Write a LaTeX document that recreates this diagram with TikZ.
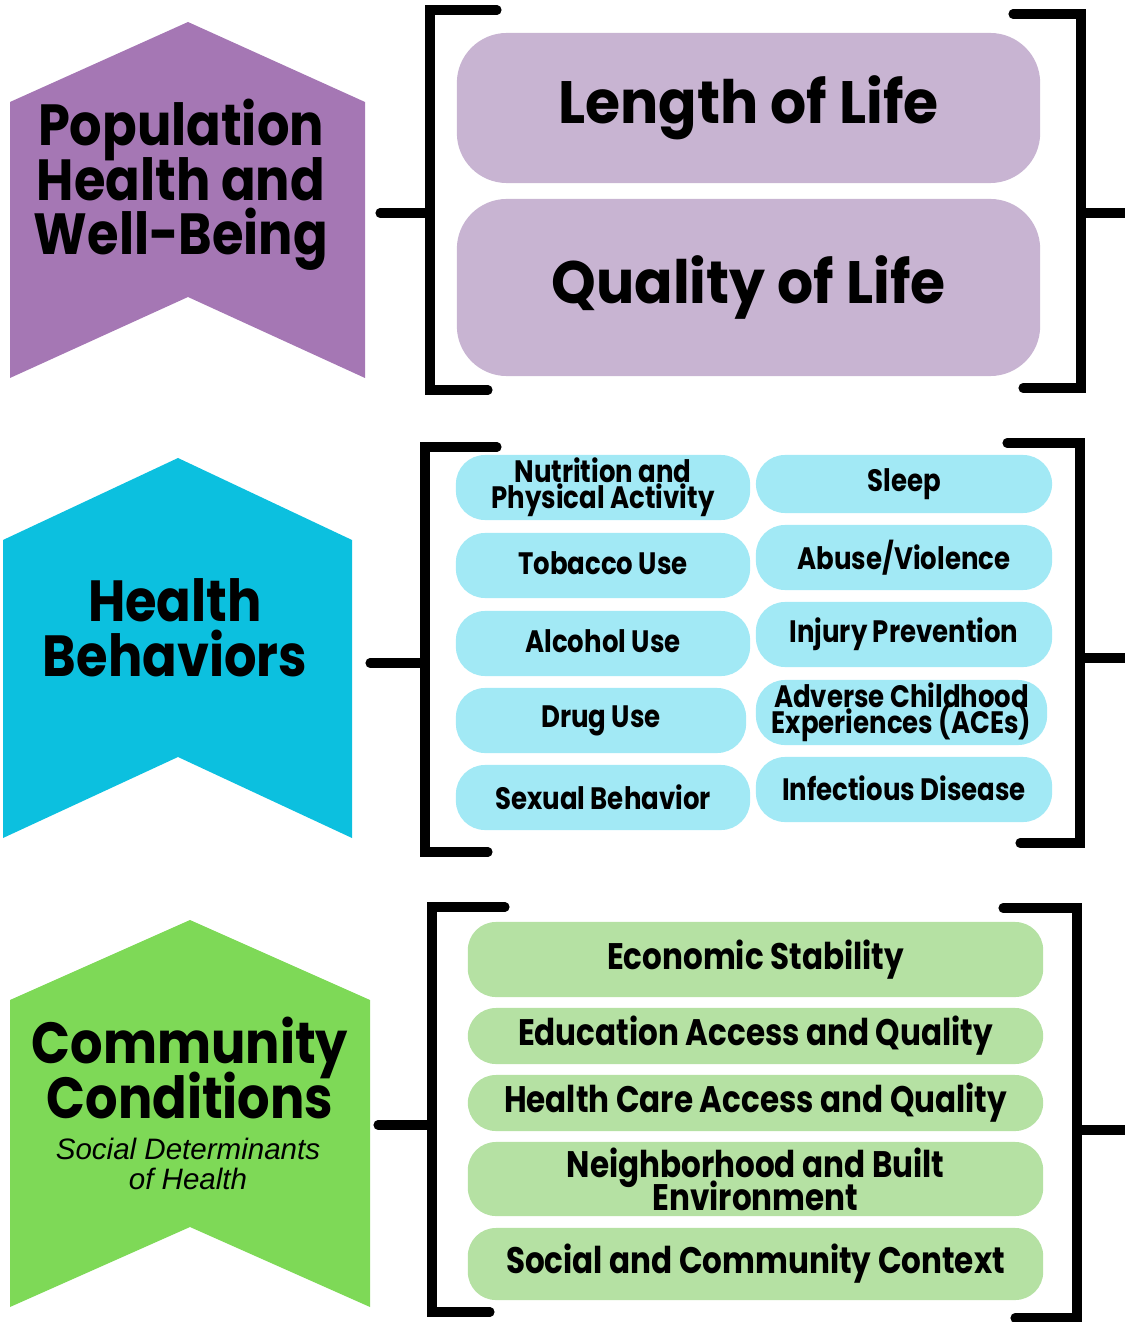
\documentclass[tikz,border=0pt]{standalone}
\usepackage{fontspec}
\newfontfamily\headfont[FakeStretch=0.88]{Poppins}
\newfontfamily\lifefont[FakeStretch=0.95]{Poppins}
\newfontfamily\pillfont[FakeStretch=0.84]{Poppins}
\newfontfamily\notefont{Liberation Sans}
\newcommand\tightlines{\lineskiplimit=-100pt\relax}
\definecolor{popdark}{HTML}{A577B4}
\definecolor{poplight}{HTML}{C8B4D2}
\definecolor{behdark}{HTML}{0CC0DF}
\definecolor{behlight}{HTML}{A2E9F5}
\definecolor{comdark}{HTML}{7ED957}
\definecolor{comlight}{HTML}{B5E1A3}
\tikzset{
  headtext/.style={align=center, inner sep=0pt,
    font={\headfont\bfseries\fontsize{16.5pt}{15.5pt}\selectfont\tightlines}},
  notetext/.style={align=center, inner sep=0pt,
    font={\notefont\itshape\fontsize{8.4pt}{8.4pt}\selectfont}},
  lifebox/.style={fill=poplight, rounded corners=0.5cm, minimum width=5.83cm, inner sep=0pt,
    font={\lifefont\bfseries\fontsize{17pt}{17pt}\selectfont}},
  behpill/.style={fill=behlight, rounded corners=0.29cm, minimum height=0.65cm, inner sep=0pt, align=center,
    font={\pillfont\bfseries\fontsize{8.8pt}{7.4pt}\selectfont\tightlines}},
  compill/.style={fill=comlight, rounded corners=0.28cm, minimum width=5.75cm, inner sep=0pt, align=center,
    font={\pillfont\bfseries\fontsize{10.5pt}{9.4pt}\selectfont\tightlines}},
  bracket/.style={line width=2.6pt, line cap=round}
}
\begin{document}
\begin{tikzpicture}[x=0.01cm, y=-0.01cm]
  \useasboundingbox (0,0) rectangle (1125,1322);

  % population health
  \fill[popdark] (10,102) -- (188,22) -- (365,102) -- (365,378) -- (188,297) -- (10,378) -- cycle;
  \node[headtext] (pop) at (181,185) {Population\\Health and\\Well-Being};
  \node[lifebox, minimum height=1.50cm] (length)  at (748.5,108)   {\raisebox{0.08cm}{Length of Life}};
  \node[lifebox, minimum height=1.77cm] (quality) at (748.5,287.5) {\raisebox{0.07cm}{Quality of Life}};
  \draw[bracket] (497,10) -- (430,10) -- (430,390) -- (488,390);
  \draw[bracket] (380,213) -- (430,213);
  \draw[bracket] (1013,14) -- (1081,14) -- (1081,388) -- (1023,388);
  \draw[bracket] (1081,213) -- (1130,213);

  % health behaviors
  \fill[behdark] (3,540) -- (178,458) -- (352,540) -- (352,838) -- (178,757) -- (3,838) -- cycle;
  \node[headtext] (beh) at (175,628) {Health\\Behaviors};
  \node[behpill, minimum width=2.94cm] (nutrition) at (603,487.5) {Nutrition and\\Physical Activity};
  \node[behpill, minimum width=2.94cm] (tobacco)   at (603,565.5) {\raisebox{0.04cm}{Tobacco Use}};
  \node[behpill, minimum width=2.94cm] (alcohol)   at (603,643.5) {\raisebox{0.04cm}{Alcohol Use}};
  \node[behpill, minimum width=2.90cm] (drug)      at (601,720.5) {Drug Use};
  \node[behpill, minimum width=2.94cm] (sexual)    at (603,797.5) {Sexual Behavior};
  \node[behpill, minimum width=2.96cm, minimum height=0.58cm] (sleep) at (904,484) {Sleep};
  \node[behpill, minimum width=2.96cm] (abuse)     at (904,557.5) {\raisebox{0.03cm}{Abuse/Violence}};
  \node[behpill, minimum width=2.96cm] (injury)    at (904,634.5) {\raisebox{0.03cm}{Injury Prevention}};
  \node[behpill, minimum width=2.91cm] (aces)      at (901.5,712.5) {Adverse Childhood\\Experiences (ACEs)};
  \node[behpill, minimum width=2.96cm] (infect)    at (904,789.5) {\raisebox{0.03cm}{Infectious Disease}};
  \draw[bracket] (497,447) -- (425,447) -- (425,852) -- (488,852);
  \draw[bracket] (370,663) -- (425,663);
  \draw[bracket] (1007,443) -- (1080,443) -- (1080,843) -- (1020,843);
  \draw[bracket] (1080,658) -- (1130,658);

  % community conditions
  \fill[comdark] (10,1000) -- (190,920) -- (370,1000) -- (370,1307) -- (190,1227) -- (10,1307) -- cycle;
  \node[headtext] (com) at (190,1068) {Community\\Conditions};
  \node[notetext] (sdoh) at (188,1164) {Social Determinants\\of Health};
  \node[compill, minimum height=0.75cm] (econ)  at (755.5,959.5) {\raisebox{0.06cm}{Economic Stability}};
  \node[compill, minimum height=0.56cm] (edu)   at (755.5,1036)  {Education Access and Quality};
  \node[compill, minimum height=0.56cm] (care)  at (755.5,1103)  {Health Care Access and Quality};
  \node[compill, minimum height=0.74cm] (neigh) at (755.5,1179)  {Neighborhood and Built\\Environment};
  \node[compill, minimum height=0.72cm] (social) at (755.5,1264) {\raisebox{0.04cm}{Social and Community Context}};
  \draw[bracket] (505,907) -- (432,907) -- (432,1312) -- (490,1312);
  \draw[bracket] (378,1125) -- (432,1125);
  \draw[bracket] (1003,908) -- (1077,908) -- (1077,1330);
  \draw[bracket] (1015,1318) -- (1077,1318);
  \draw[bracket] (1077,1130) -- (1130,1130);
\end{tikzpicture}
\end{document}
